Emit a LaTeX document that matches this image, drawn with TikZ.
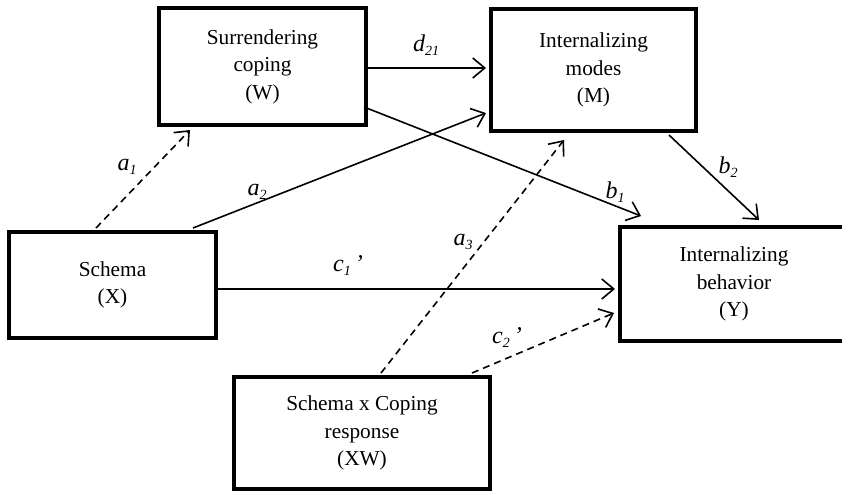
\documentclass[tikz,border=0pt]{standalone}
\usepackage{fontspec}
\setmainfont{Liberation Serif}
\usetikzlibrary{arrows.meta}
\newcommand{\mysub}[1]{\raisebox{-4pt}{\fontsize{14}{14}\selectfont #1}}
\begin{document}
\begin{tikzpicture}[x=1pt,y=-1pt,
  box/.style={draw, line width=4pt, inner sep=0pt, align=center,
    font=\fontsize{21.3}{27.5}\selectfont},
  conn/.style={line width=1.6pt,
    -{Straight Barb[length=12pt,width=20pt,line width=1.6pt]}},
  dconn/.style={conn, dash pattern=on 7pt off 5pt},
  lbl/.style={font=\fontsize{24}{26}\selectfont\itshape, inner sep=0pt}]
\useasboundingbox (0,0) rectangle (842,493);
% boxes
\node[box, minimum width=207pt, minimum height=117pt] (W) at (262.5,66.5) {Surrendering\\coping\\(W)};
\node[box, minimum width=205pt, minimum height=122pt] (M) at (593.5,70) {Internalizing\\modes\\(M)};
\node[box, minimum width=207pt, minimum height=106pt] (X) at (112.5,285) {Schema\\(X)};
\node[box, minimum width=228pt, minimum height=114pt] (Y) at (734,284) {Internalizing\\behavior\\(Y)};
\node[box, minimum width=256pt, minimum height=112pt] (XW) at (362,433) {Schema x Coping\\response\\(XW)};
% connectors
\draw[dconn] ([xshift=89pt,yshift=2pt]X.north west) -- ([xshift=33pt,yshift=-3pt]W.south west);
\draw[conn] ([xshift=186pt,yshift=2pt]X.north west) -- ([xshift=-3pt,yshift=-43pt]M.west);
\draw[conn] ([yshift=-1.5pt]W.east) -- ([yshift=-1.5pt,xshift=-3pt]W.east -| M.west);
\draw[conn] ([xshift=-4pt,yshift=-40.5pt]W.east) -- ([xshift=23pt,yshift=9pt]Y.north west);
\draw[conn] ([xshift=180pt,yshift=-2pt]M.south west) -- ([xshift=141pt,yshift=5pt]Y.north west);
\draw[conn] ([yshift=-4pt]X.east) -- ([yshift=-4pt,xshift=-3pt]X.east -| Y.west);
\draw[dconn] ([xshift=149pt,yshift=2pt]XW.north west) -- ([xshift=75pt,yshift=-7pt]M.south west);
\draw[dconn] ([xshift=240pt,yshift=2pt]XW.north west) -- ([xshift=-4pt,yshift=-29pt]Y.west);
% labels
\node[lbl] (la1) at (127,167) {a\mysub{1}};
\node[lbl] (la2) at (257,192) {a\mysub{2}};
\node[lbl] (ld21) at (426,45) {d\mysub{21}};
\node[lbl] (lb1) at (615,192) {b\mysub{1}};
\node[lbl] (lb2) at (728,167) {b\mysub{2}};
\node[lbl] (lc1) at (348,266) {c\mysub{1}\hspace{4pt}’};
\node[lbl] (la3) at (463,242) {a\mysub{3}};
\node[lbl] (lc2) at (507,338) {c\mysub{2}\hspace{4pt}’};
\end{tikzpicture}
\end{document}
